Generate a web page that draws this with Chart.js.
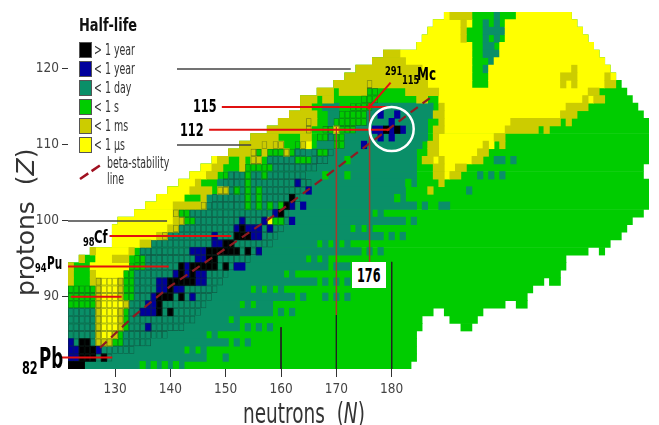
<!DOCTYPE html>
<html>
<head>
<meta charset="utf-8">
<title>Half-life chart of the nuclides</title>
<script src="https://cdn.jsdelivr.net/npm/chart.js@4"></script>
<style>
  body { margin: 0; background: #fff; }
  #wrap { position: relative; width: 659px; height: 425px; overflow: hidden; }
  canvas { position: absolute; left: 0; top: 0; filter: blur(0.4px); }
  .t { position: absolute; white-space: nowrap; font-family: "DejaVu Sans Condensed", "DejaVu Sans", sans-serif; line-height: 1; color: #000; transform-origin: 0 0; transform: scaleX(0.74); }
  .b { font-weight: bold; }
  .leg { font-size: 15px; color: #333; left: 94px; transform: scaleX(0.7); }
  .swatch { position: absolute; left: 79px; width: 11px; height: 14px; border: 1px solid #555; }
  .big { font-family: "DejaVu Sans", sans-serif; color: #333; }
  #box176 { position: absolute; left: 352px; top: 262px; width: 34px; height: 26px; background: #fff; }
</style>
</head>
<body>
<div id="wrap">
  <canvas id="chart" width="659" height="425"></canvas>

  <div class="t b" style="left:79px;top:16px;font-size:18px;color:#111;transform:scaleX(0.8)">Half-life</div>
  <div id="legend"></div>
  <svg style="position:absolute;left:76px;top:160px" width="30" height="24">
    <line x1="4" y1="19" x2="26" y2="4" stroke="#a01020" stroke-width="2.5" stroke-dasharray="10 4"/>
  </svg>
  <div class="t" style="left:107px;top:156px;font-size:15px;color:#333;transform:scaleX(0.7)">beta-stability</div>
  <div class="t" style="left:107px;top:172px;font-size:15px;color:#333;transform:scaleX(0.7)">line</div>

  <div class="t b" style="left:193px;top:98px;font-size:17px">115</div>
  <div class="t b" style="left:180px;top:122px;font-size:17px">112</div>
  <div class="t b" style="left:385px;top:65px;font-size:12.5px">291</div>
  <div class="t b" style="left:402px;top:74px;font-size:12.5px">115</div>
  <div class="t b" style="left:417px;top:65px;font-size:18px">Mc</div>
  <div class="t b" style="left:83px;top:236px;font-size:12.5px">98</div>
  <div class="t b" style="left:94px;top:228px;font-size:18px;transform:scaleX(0.72)">Cf</div>
  <div class="t b" style="left:35px;top:262px;font-size:12.5px">94</div>
  <div class="t b" style="left:47px;top:254px;font-size:18px;transform:scaleX(0.65)">Pu</div>
  <div class="t b" style="left:22px;top:360px;font-size:17px">82</div>
  <div class="t b" style="left:39px;top:344px;font-size:29px;transform:scaleX(0.64)">Pb</div>
  <div id="box176"></div>
  <div class="t b" style="left:357px;top:266px;font-size:19px;transform:scaleX(0.66)">176</div>

  <div class="t big" style="left:243px;top:400px;font-size:28px;transform:scaleX(0.66)">neutrons&nbsp;&nbsp;(<i>N</i>)</div>
  <div class="t big" style="left:13px;top:296px;font-size:25px;transform:rotate(-90deg)">protons&nbsp;&nbsp;(<i>Z</i>)</div>
</div>

<script>
// Axis ticks
const neutronTicks = [130, 140, 150, 160, 170, 180];
const protonTicks = [90, 100, 110, 120];

// Legend
const halfLifeLabels = ["> 1 year", "< 1 year", "< 1 day", "< 1 s", "< 1 ms", "< 1 µs"];
const halfLifeColors = ["#000000", "#00009c", "#0a8f68", "#00cc00", "#cccc00", "#ffff00"];

// Each run is [Z, first N, last N]
const allRuns = [
  [127,190,212],[126,188,213],[125,187,214],[124,186,215],[123,185,216],[122,179,217],[121,177,218],
  [120,174,219],[119,172,220],[118,170,221],[117,167,222],[116,164,223],[115,164,224],[114,162,225],
  [113,160,226],[112,158,226],[111,155,226],[110,153,226],[109,151,226],[108,148,226],[107,146,225],
  [106,144,225],[105,142,226],[104,140,226],[103,138,226],[102,136,226],[101,134,225],[100,131,223],
  [99,130,222],[98,130,221],[97,130,219],[96,126,215],[96,218,218],[95,124,211],[94,122,211],[93,122,210],
  [92,122,207],[92,209,210],[91,122,205],[90,122,204],[89,122,200],[89,203,204],[88,122,187],[88,190,196],
  [87,122,185],[87,191,195],[86,122,185],[86,193,194],[85,122,184],[84,122,184],[83,122,184],[82,122,184],[81,122,183]
];
const dayRuns = [
  [127,199,199],[126,197,197],[126,199,199],[125,197,200],[124,197,197],[124,199,199],[123,197,198],[122,197,199],[121,198,198],[120,197,198],
  [115,168,170],[115,177,187],[114,169,170],[114,176,187],[113,169,169],[113,176,186],[112,174,186],[111,169,169],[111,172,186],
  [110,167,169],[110,172,185],[109,163,166],[109,169,184],[108,158,162],[108,166,184],[108,199,200],[108,202,202],[107,159,184],
  [106,151,184],[106,196,196],[106,198,198],[106,200,200],[105,149,182],[105,184,184],[104,151,182],[104,194,194],[103,147,180],[103,182,182],
  [102,147,184],[102,186,186],[102,189,190],[101,144,176],[101,178,178],[100,145,182],[100,184,184],[99,142,172],[99,174,174],[99,176,176],
  [98,140,178],[98,180,180],[98,182,182],[97,137,166],[97,168,168],[97,170,170],[97,172,172],[96,135,174],[96,176,176],[96,178,178],
  [95,136,164],[95,166,166],[95,168,168],[94,136,168],[94,170,172],[93,134,160],[93,162,162],
  [92,134,166],[92,168,168],[92,170,170],[92,172,172],[91,134,154],[91,156,156],[91,158,158],[91,160,160],
  [90,134,162],[90,164,164],[90,168,168],[90,170,170],[90,172,172],[89,133,152],[89,154,154],[89,156,158],
  [88,122,126],[88,133,158],[88,160,160],[88,162,162],[87,122,126],[87,133,150],[87,152,152],[86,122,126],[86,133,152],[86,154,154],[86,156,156],[86,158,158],
  [85,122,126],[85,132,146],[85,148,148],[84,123,123],[84,126,126],[84,132,150],[84,152,152],[84,154,154],
  [83,128,142],[83,144,144],[83,146,146],[82,127,146],[82,150,150],[81,125,142]
];
const sSpotRuns = [
  [108,172,172],[106,154,154],[106,157,157],[106,168,168],[106,172,172],[105,154,154],[105,183,183],[104,152,152],[104,154,154],[104,156,156],
  [103,154,154],[103,156,156],[103,181,181],[102,154,154],[102,156,156],[102,158,158],[102,160,160],[100,159,160],
  [81,135,135],[81,137,137],[81,139,139],[81,141,141]
];
const usRuns = [
  [127,190,190],[127,203,212],[126,188,192],[126,194,194],[126,201,213],[125,187,192],[125,201,214],[124,186,192],[124,201,215],
  [123,185,194],[123,200,216],[122,182,194],[122,200,217],[121,183,194],[121,199,218],[120,186,194],[120,198,219],[119,187,194],[119,198,220],
  [118,187,194],[118,198,218],[117,189,215],[116,189,214],[116,216,216],[115,190,211],[114,190,210],[113,190,201],[112,190,200],[111,189,198],
  [110,189,196],[110,198,198],[109,189,195],[108,188,194],[107,190,191],[106,190,190],
  [112,170,170],[110,165,165],[100,158,158],
  [108,148,148],[107,146,147],[106,144,146],[105,142,144],[104,140,143],[103,138,142],[102,136,140],[101,134,140],[100,131,140],
  [99,130,139],[98,130,137],[97,130,134],[96,127,132],[95,127,129],[94,126,132],[93,127,131],[92,128,130],[91,128,130],[90,128,130],
  [89,128,131],[88,128,130],[87,128,130],[86,128,130],[85,128,129]
];
const msRuns = [
  [127,191,194],[126,193,193],[125,193,193],[124,193,193],[122,179,181],[121,177,182],[120,174,185],[120,213,213],[119,172,186],[119,211,213],[119,219,219],
  [118,170,186],[118,211,211],[118,213,213],[118,219,220],[117,167,169],[117,171,175],[117,183,188],[117,216,217],
  [116,164,166],[116,168,169],[116,185,186],[116,215,215],[116,217,218],[115,164,165],[115,189,189],[115,212,215],
  [114,162,166],[114,188,189],[114,211,213],[113,160,166],[113,189,189],[113,202,210],[113,212,212],
  [112,158,165],[112,188,189],[112,201,206],[112,208,208],[111,155,159],[111,164,165],[111,188,188],[111,199,200],
  [110,153,160],[110,164,164],[110,187,188],[110,197,197],[110,200,200],[109,151,155],[109,157,157],[109,161,161],[109,187,188],[109,196,197],
  [108,149,150],[108,153,153],[108,155,156],[108,186,187],[108,189,189],[108,195,196],[107,148,149],[107,153,153],[107,188,189],[107,192,193],
  [106,147,148],[106,188,189],[106,191,192],[105,145,145],[105,189,189],[104,144,147],[104,149,150],[104,187,187],[103,146,146],
  [102,141,146],[101,141,141],[100,141,142],[99,140,141],[98,138,139],[97,135,136],[96,126,126],[96,133,133],[95,124,124],[95,130,132],
  [94,122,122],[93,122,122],[93,126,126],[92,122,122],[92,126,127],[92,131,131],[91,127,127],[91,131,131],[90,127,127],[90,131,131],
  [89,127,127],[89,132,132],[88,127,127],[88,131,131],[87,127,127],[87,131,131],[86,127,127],[86,131,131],[85,127,127],[85,130,130],[84,127,129]
];
const yearRuns = [
  [114,178,178],[114,181,181],[113,180,180],[112,177,178],[112,180,180],[112,182,182],[111,178,178],[111,180,180],[110,175,175],
  [105,163,163],[104,165,165],[102,162,162],[102,164,164],[101,159,159],[100,153,153],[100,157,157],[100,162,162],
  [99,152,152],[99,154,156],[99,158,158],[98,148,148],[98,155,156],[97,148,149],[96,144,146],[96,156,156],[95,145,146],
  [94,143,143],[94,152,153],[93,141,141],[93,143,143],[93,145,146],[92,138,139],[92,145,146],[91,138,139],[91,141,142],
  [90,137,137],[90,144,144],[89,136,137],[88,135,137],[86,136,136],[84,122,122],[83,122,123],[83,127,127],[82,122,123]
];
const stableRuns = [
  [112,179,179],[112,181,181],[103,162,162],[102,161,161],[101,160,160],[99,153,153],[98,152,154],[97,150,151],[96,147,152],[96,154,154],
  [95,147,148],[94,142,142],[94,144,148],[94,150,150],[93,142,142],[93,144,144],[92,140,144],[91,140,140],[90,138,140],[90,142,142],
  [89,138,138],[88,138,138],[88,140,140],[84,124,125],[83,124,126],[82,124,126],[82,128,128],[81,122,124]
];
// Cells outlined as known nuclides
const knownRuns = [
  [118,176,176],[117,176,177],[116,175,177],[115,173,176],[114,171,175],[113,165,165],[113,170,175],[112,165,165],[112,168,173],[111,167,171],
  [110,157,157],[110,159,160],[110,163,164],[110,170,171],[109,155,156],[109,158,164],[109,166,169],[108,155,156],[108,158,168],[107,154,166],
  [106,150,164],[105,150,165],[104,149,164],[103,148,163],[102,146,162],[101,141,161],[100,142,161],[99,141,160],[98,139,159],[97,137,158],
  [96,135,156],[95,134,154],[94,133,151],[93,132,150],[92,127,149],[91,122,148],[90,122,147],[89,122,146],[88,122,145],[87,122,144],
  [86,122,142],[85,122,139],[84,122,136],[83,122,133],[82,122,129]
];

// Overlay lines, as [N, Z] pairs
const betaLine = [[127.3,83.3],[133.3,87.4],[140,91.4],[158.5,100.6],[187.3,116.4]];
const redLines = [
  [[149.3,115],[179.6,115]], [[147,112],[179.6,112]], [[129,98],[151,98]],
  [[121.5,94],[139.7,94]], [[122,90],[131.2,90]], [[120.4,82],[129.5,82]]
];
const brownLines = [[[170,112.4],[170,87.6]], [[176,115],[176,94.6]]];
const blackLines = [[[160,86],[160,80.5]], [[170,87.6],[170,80.5]], [[180,94.6],[180,80.5]]];
const grayLines = [
  [[141.2,120],[172.6,120]], [[141.2,110],[154.6,110]], [[121.5,100],[139.4,100]]
];
const mcArrow = [[179.8,118.2],[176.1,115.1]];
const mcRing = [[180,112.1]];

// Floating bars, one per run
function runsToBars(runs) {
  return runs.map(r => ({ x: [r[1] - 0.5, r[2] + 0.5], y: r[0] }));
}

// Known nuclides need one box per cell
function runsToCells(runs) {
  const cells = [];
  runs.forEach(r => {
    for (let n = r[1]; n <= r[2]; n++) {
      cells.push({ x: [n - 0.5, n + 0.5], y: r[0] });
    }
  });
  return cells;
}

function barSet(data, color) {
  return { type: 'bar', data: data, backgroundColor: color, borderWidth: 0, barPercentage: 1, categoryPercentage: 1, grouped: false };
}

function lineSet(points, color, width, dash) {
  return {
    type: 'scatter', showLine: true, clip: false,
    data: points.map(p => ({ x: p[0], y: p[1] })),
    borderColor: color, borderWidth: width, borderDash: dash || [],
    pointRadius: 0, pointHoverRadius: 0
  };
}

// Paint order, bottom first
const datasets = [
  barSet(runsToBars(allRuns), halfLifeColors[3]),
  barSet(runsToBars(dayRuns), halfLifeColors[2]),
  barSet(runsToBars(usRuns), halfLifeColors[5]),
  barSet(runsToBars(msRuns), halfLifeColors[4]),
  barSet(runsToBars(sSpotRuns), halfLifeColors[3]),
  barSet(runsToBars(yearRuns), halfLifeColors[1]),
  barSet(runsToBars(stableRuns), halfLifeColors[0]),
  {
    type: 'bar', data: runsToCells(knownRuns), backgroundColor: 'transparent',
    borderColor: 'rgba(20,50,40,0.55)', borderWidth: 0.7, borderSkipped: false, inflateAmount: 0,
    barPercentage: 1, categoryPercentage: 1, grouped: false
  },
  lineSet(betaLine, '#8e1b22', 2.2, [9, 6])
];
brownLines.forEach(l => datasets.push(lineSet(l, '#a8382c', 1.5)));
blackLines.forEach(l => datasets.push(lineSet(l, '#222', 1)));
grayLines.forEach(l => datasets.push(lineSet(l, '#444', 1.5)));
redLines.forEach(l => datasets.push(lineSet(l, '#e01010', 2)));

const arrow = lineSet(mcArrow, '#e01010', 2);
arrow.pointRadius = [0, 4];
arrow.pointBackgroundColor = '#e01010';
arrow.pointBorderWidth = 0;
arrow.pointStyle = 'triangle';
arrow.pointRotation = 220;
datasets.push(arrow);

const ring = lineSet(mcRing, 'transparent', 0);
ring.showLine = false;
ring.pointRadius = 22;
ring.pointBackgroundColor = 'transparent';
ring.pointBorderColor = '#ffffff';
ring.pointBorderWidth = 2.5;
datasets.push(ring);

// First dataset is drawn last by default, so flip it
datasets.forEach((d, i) => { d.order = datasets.length - i; });

const tickFont = { family: '"DejaVu Sans Condensed", "DejaVu Sans", sans-serif', size: 13.5 };

new Chart(document.getElementById('chart'), {
  type: 'bar',
  data: { datasets: datasets },
  options: {
    indexAxis: 'y',
    responsive: false,
    animation: false,
    events: [],
    layout: { autoPadding: false, padding: { top: 12, right: 10, left: 0, bottom: 0 } },
    plugins: { legend: { display: false }, tooltip: { enabled: false } },
    scales: {
      x: {
        type: 'linear', min: 121.5, max: 226.5,
        afterBuildTicks: axis => { axis.ticks = neutronTicks.map(v => ({ value: v })); },
        afterFit: axis => { axis.height = 56; },
        grid: { drawOnChartArea: false, drawTicks: true, tickLength: 8, color: '#333' },
        border: { display: false },
        ticks: { font: tickFont, color: '#444', padding: 4, maxRotation: 0, autoSkip: false }
      },
      y: {
        type: 'linear', min: 80.5, max: 127.5, offset: false,
        afterBuildTicks: axis => { axis.ticks = protonTicks.map(v => ({ value: v })); },
        afterFit: axis => { axis.width = 68; },
        grid: { offset: false, drawOnChartArea: false, drawTicks: true, tickLength: 6, color: '#333' },
        border: { display: false },
        ticks: { font: tickFont, color: '#444', padding: 3, autoSkip: false }
      }
    }
  }
});

// HTML legend
const legendBox = document.getElementById('legend');
halfLifeLabels.forEach((label, i) => {
  const top = 42 + i * 19;
  const swatch = document.createElement('div');
  swatch.className = 'swatch';
  swatch.style.top = top + 'px';
  swatch.style.background = halfLifeColors[i];
  legendBox.appendChild(swatch);
  const text = document.createElement('div');
  text.className = 't leg';
  text.style.top = (top + 1) + 'px';
  text.textContent = label;
  legendBox.appendChild(text);
});
</script>
</body>
</html>
